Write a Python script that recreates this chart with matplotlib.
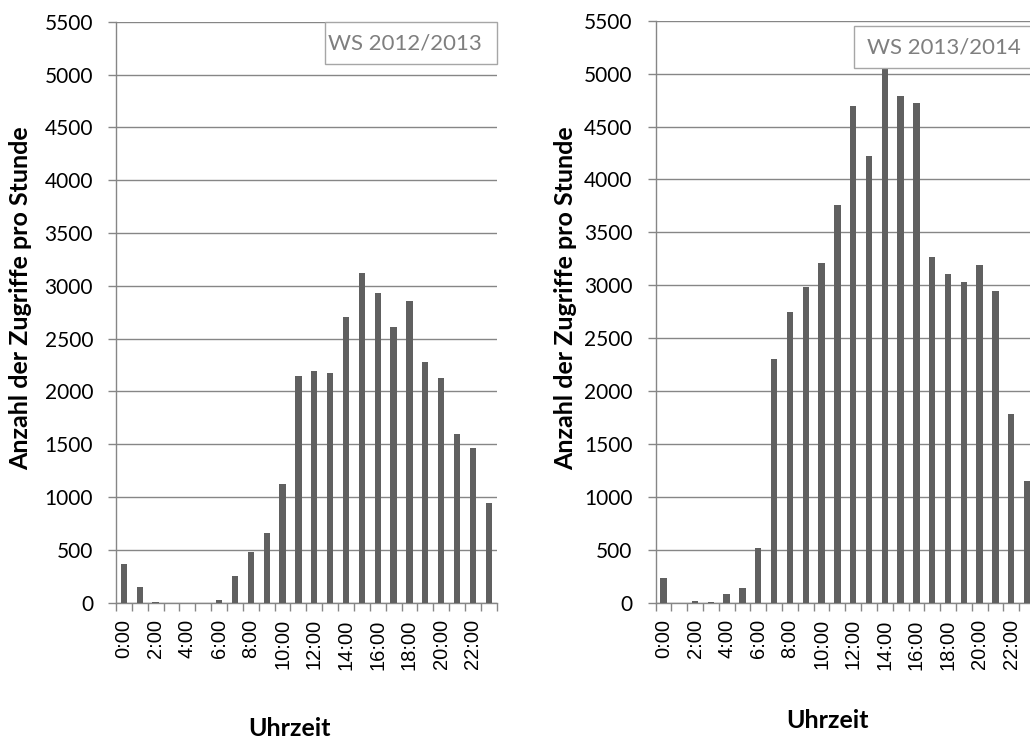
import numpy as np
import matplotlib
matplotlib.use("Agg")
import matplotlib.pyplot as plt
from matplotlib.patches import Rectangle

hours = [f"{h}:00" for h in range(24)]
ws_2012 = [370, 145, 5, 0, 0, 0, 25, 252, 482, 656, 1120, 2145, 2190, 2170,
           2700, 3120, 2930, 2610, 2860, 2280, 2130, 1600, 1460, 940]
ws_2013 = [230, 0, 15, 5, 82, 139, 513, 2300, 2750, 2980, 3210, 3760, 4690, 4220,
           5110, 4790, 4720, 3270, 3110, 3030, 3190, 2950, 1780, 1150]
labels = ["WS 2012/2013", "WS 2013/2014"]

W, H = 1030, 740
fig = plt.figure(figsize=(W / 100, H / 100), dpi=100)

grey = "#868686"
bar_col = "#606060"
tick_font = "Lato"
x_font = "Liberation Sans"

# axes positions in pixels: (left, top, right, bottom)
boxes = [(116, 21.7, 496.7, 602.7), (655.5, 20.7, 1035, 602.7)]
# legend boxes in axes coords: (x0, y0, x1, y1, text x, text y)
legs = [(0.549, 0.927, 1.0, 0.9994, 0.758, 0.963),
        (0.523, 0.9187, 1.05, 0.9909, 0.760, 0.954)]

for ax_i, (vals, lab) in enumerate(zip([ws_2012, ws_2013], labels)):
    l, t, r, b = boxes[ax_i]
    ax = fig.add_axes([l / W, 1 - b / H, (r - l) / W, (b - t) / H])
    x = np.arange(len(hours))
    ax.bar(x, vals, width=0.4, color=bar_col, zorder=3)
    ax.set_xlim(-0.5, 23.5)
    ax.set_ylim(0, 5500)
    ax.set_yticks(np.arange(0, 5501, 500))
    ax.yaxis.grid(True, color=grey, linewidth=1.0, zorder=0)
    ax.set_axisbelow(True)
    for s in ["top", "right"]:
        ax.spines[s].set_visible(False)
    for s in ["left", "bottom"]:
        ax.spines[s].set_color(grey)
        ax.spines[s].set_linewidth(1.0)
    ax.set_xticks(x[::2])
    ax.set_xticklabels(hours[::2], rotation=90, fontsize=14.5, family=x_font)
    ax.set_xticks(np.arange(-0.5, 24, 1), minor=True)
    ax.tick_params(axis="x", which="major", length=0, pad=12)
    ax.tick_params(axis="x", which="minor", length=5.5, color=grey, width=1)
    ax.tick_params(axis="y", length=5.5, color=grey, width=1, pad=11, labelsize=15)
    for tl in ax.get_yticklabels():
        tl.set_family(tick_font)
    x0, y0, x1, y1, tx, ty = legs[ax_i]
    ax.add_patch(Rectangle((x0, y0), x1 - x0, y1 - y0, transform=ax.transAxes,
                           facecolor="white", edgecolor="#a6a6a6", linewidth=1,
                           zorder=5, clip_on=False))
    ax.text(tx, ty, lab, transform=ax.transAxes, ha="center", va="center",
            fontsize=16, color="#7f7f7f", family=tick_font, zorder=6)

# axis titles
for xp, yp in [(21, 298), (566, 298)]:
    fig.text(xp / W, 1 - yp / H, "Anzahl der Zugriffe pro Stunde", rotation=90,
             ha="center", va="center", fontsize=18, fontweight="bold", family=tick_font)
for xp, yp in [(289, 728), (828, 721)]:
    fig.text(xp / W, 1 - yp / H, "Uhrzeit", ha="center", va="center",
             fontsize=18, fontweight="bold", family=tick_font)

fig.savefig("out.png", dpi=100)
